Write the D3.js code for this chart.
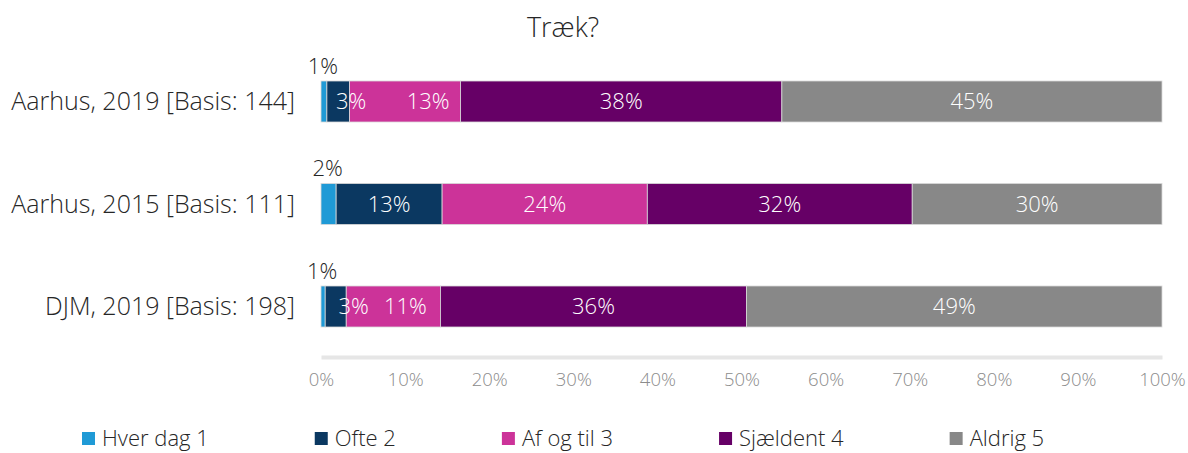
<!DOCTYPE html>
<html>
<head>
<meta charset="utf-8">
<script src="https://cdn.jsdelivr.net/npm/d3@7"></script>
<style>
  body { margin: 0; background: #fff; }
  text { font-family: "Open Sans", Lato, sans-serif; font-weight: 300; }
</style>
</head>
<body>
<div id="chart"></div>
<script>
var categories = ["Aarhus, 2019 [Basis: 144]", "Aarhus, 2015 [Basis: 111]", "DJM, 2019 [Basis: 198]"];
var seriesNames = ["Hver dag 1", "Ofte 2", "Af og til 3", "Sjældent 4", "Aldrig 5"];
var hverDag = [0.7, 1.8, 0.5];
var ofte = [2.7, 12.6, 2.5];
var afOgTil = [13.2, 24.4, 11.2];
var sjaeldent = [38.2, 31.5, 36.4];
var aldrig = [45.2, 29.7, 49.4];
var labelsHverDag = ["1%", "2%", "1%"];
var labelsOfte = ["3%", "13%", "3%"];
var labelsAfOgTil = ["13%", "24%", "11%"];
var labelsSjaeldent = ["38%", "32%", "36%"];
var labelsAldrig = ["45%", "30%", "49%"];
var tickValues = [0, 10, 20, 30, 40, 50, 60, 70, 80, 90, 100];

var colors = ["#1f9ad6", "#0b3861", "#cc3399", "#660066", "#888888"];

var width = 1188, height = 453;

var svg = d3.select("#chart")
    .append("svg")
    .attr("width", width)
    .attr("height", height);

var series = [hverDag, ofte, afOgTil, sjaeldent, aldrig];
var labels = [labelsHverDag, labelsOfte, labelsAfOgTil, labelsSjaeldent, labelsAldrig];

// table for the stack
var table = categories.map(function (c, i) {
    var row = { category: c };
    seriesNames.forEach(function (s, j) { row[s] = series[j][i]; });
    return row;
});

var stacked = d3.stack().keys(seriesNames)(table);

var x = d3.scaleLinear()
    .domain([0, 100])
    .range([321, 1162]);

var y = d3.scaleBand()
    .domain(categories)
    .range([50.25, 357.75])
    .paddingInner(0.6)
    .paddingOuter(0.3);

// title
svg.append("text")
    .attr("x", 563)
    .attr("y", 28)
    .attr("dy", "0.35em")
    .attr("text-anchor", "middle")
    .style("font-size", "27px")
    .style("fill", "#262626")
    .text("Træk?");

// x axis
var xAxis = svg.append("g")
    .attr("transform", "translate(0,357)")
    .call(d3.axisBottom(x)
        .tickValues(tickValues)
        .tickSize(0)
        .tickPadding(16)
        .tickFormat(function (d) { return d + "%"; }));

xAxis.select(".domain")
    .attr("stroke", "#e6e6e6")
    .attr("stroke-width", 4);

xAxis.selectAll("text")
    .style("font-family", "'Open Sans', Lato, sans-serif")
    .style("font-weight", 300)
    .style("font-size", "18.5px")
    .style("fill", "#8c8c8c");

// category labels
svg.selectAll("text.cat")
    .data(categories)
    .enter()
    .append("text")
    .attr("class", "cat")
    .attr("x", 295)
    .attr("y", function (d) { return y(d) + y.bandwidth() / 2; })
    .attr("dy", "0.35em")
    .attr("text-anchor", "end")
    .style("font-size", "25px")
    .style("fill", "#262626")
    .text(function (d) { return d; });

// bars
var groups = svg.selectAll("g.series")
    .data(stacked)
    .enter()
    .append("g")
    .attr("class", "series")
    .attr("fill", function (d, i) { return colors[i]; });

groups.selectAll("rect")
    .data(function (d) { return d; })
    .enter()
    .append("rect")
    .attr("x", function (d) { return x(d[0]); })
    .attr("y", function (d) { return y(d.data.category); })
    .attr("width", function (d) { return x(d[1]) - x(d[0]); })
    .attr("height", y.bandwidth())
    .attr("stroke", "#d9d9d9")
    .attr("stroke-width", 0.8);

// label nudges for the small segments (pixels)
var nudge = { "1-0": 13, "2-0": 23, "1-2": 18, "2-2": 12 };

stacked.forEach(function (s, si) {
    s.forEach(function (d, ci) {
        var cx = (x(d[0]) + x(d[1])) / 2;
        var t = svg.append("text")
            .attr("text-anchor", "middle")
            .style("font-size", "22px")
            .text(labels[si][ci]);
        if (si === 0) {
            // Hver dag labels sit above the bar
            t.attr("x", cx - 1)
                .attr("y", y(d.data.category) - 15)
                .attr("dy", "0.35em")
                .style("fill", "#262626");
        } else {
            t.attr("x", cx + (nudge[si + "-" + ci] || 0))
                .attr("y", y(d.data.category) + y.bandwidth() / 2)
                .attr("dy", "0.35em")
                .style("fill", "#ffffff");
        }
    });
});

// legend
var legend = svg.append("g").attr("class", "legend");
var lx = 82;
seriesNames.forEach(function (name, i) {
    legend.append("rect")
        .attr("x", lx)
        .attr("y", 432)
        .attr("width", 13)
        .attr("height", 13)
        .attr("fill", colors[i]);
    var t = legend.append("text")
        .attr("x", lx + 20)
        .attr("y", 438)
        .attr("dy", "0.35em")
        .style("font-size", "22px")
        .style("fill", "#262626")
        .text(name);
    lx += 20 + t.node().getComputedTextLength() + 106;
});
</script>
</body>
</html>
